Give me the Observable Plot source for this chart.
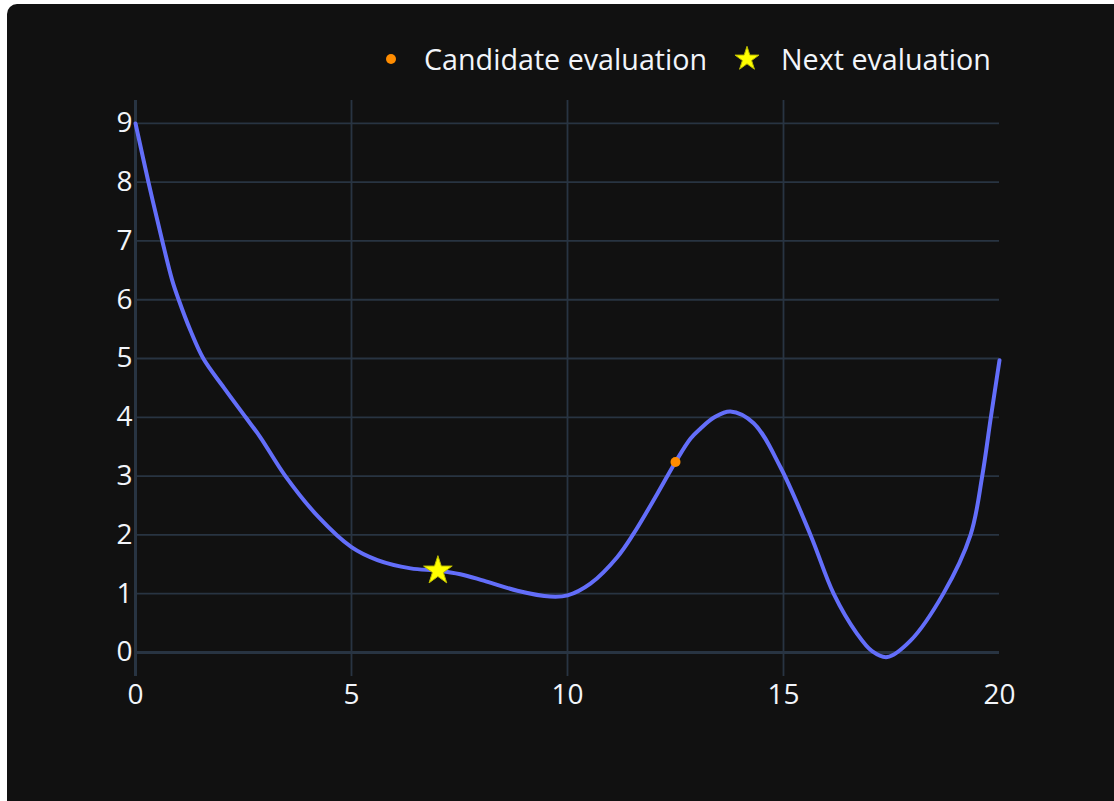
<!DOCTYPE html>
<html>
<head>
<meta charset="utf-8">
<script src="https://cdn.jsdelivr.net/npm/d3@7"></script>
<script src="https://cdn.jsdelivr.net/npm/@observablehq/plot@0.6"></script>
<style>
  html, body { margin: 0; padding: 0; background: #ffffff; }
  #frame { position: absolute; left: 7px; top: 4px; width: 1107px; height: 797px; background: #111111; border-radius: 10px 0 0 0; overflow: hidden; }
  #chart { position: absolute; left: 0; top: 0; }
  #legend { position: absolute; top: 0; left: 0; width: 1114px; height: 120px; font-family: "Open Sans", sans-serif; font-size: 28.7px; color: #f2f5fa; }
  .item { position: absolute; top: 39px; line-height: 40px; white-space: nowrap; }
</style>
</head>
<body>
<div id="frame"></div>
<div id="chart"></div>
<div id="legend"></div>
<script>
// Surrogate curve
const curveX = [0, 0.3, 0.62, 0.85, 1.0, 1.27, 1.57, 2.04, 2.55, 2.89, 3.47, 4.24, 5.0, 5.6, 6.37, 7.0, 7.52, 8.06, 8.84, 9.6, 10.0, 10.53, 11.15, 11.53, 12.08, 12.5, 12.85, 13.08, 13.4, 13.77, 14.31, 14.93, 15.63, 16.16, 16.7, 17.05, 17.4, 17.94, 18.7, 19.33, 19.6, 19.8, 20];
const curveY = [9.0, 8.0, 7.0, 6.33, 6.0, 5.48, 5.0, 4.51, 4.0, 3.66, 3.0, 2.3, 1.79, 1.57, 1.43, 1.39, 1.33, 1.22, 1.05, 0.95, 0.97, 1.17, 1.62, 2.02, 2.7, 3.24, 3.64, 3.81, 4.0, 4.1, 3.9, 3.15, 1.99, 1.0, 0.32, 0.02, -0.08, 0.2, 1.0, 2.0, 3.0, 4.0, 4.97];

const candidateX = [12.5];
const candidateY = [3.24];
const nextX = [7.0];
const nextY = [1.39];

const xTicks = [0, 5, 10, 15, 20];
const yTicks = [0, 1, 2, 3, 4, 5, 6, 7, 8, 9];
const legendLabels = ["Candidate evaluation", "Next evaluation"];

const curve = curveX.map((x, i) => ({x, y: curveY[i]}));
const cand = candidateX.map((x, i) => ({x, y: candidateY[i]}));
const next = nextX.map((x, i) => ({x, y: nextY[i]}));

const gridColor = "#283442";
const textColor = "#f2f5fa";

const chart = Plot.plot({
  width: 1114,
  height: 801,
  marginLeft: 135,
  marginRight: 115,
  marginTop: 100,
  marginBottom: 125,
  style: { background: "transparent", fontFamily: "'Open Sans', sans-serif", color: textColor },
  x: { domain: [0, 20] },
  y: { domain: [-0.41, 9.39] },
  marks: [
    Plot.gridX([5, 10, 15], { stroke: gridColor, strokeOpacity: 1, strokeWidth: 1.8 }),
    Plot.gridY([1, 2, 3, 4, 5, 6, 7, 8, 9], { stroke: gridColor, strokeOpacity: 1, strokeWidth: 1.8 }),
    Plot.ruleY([0], { stroke: gridColor, strokeWidth: 3 }),
    Plot.ruleX([0], { stroke: gridColor, strokeWidth: 3 }),
    Plot.axisX(xTicks, { tickSize: 0, tickPadding: 8, fontSize: 28, fill: textColor, label: null, tickFormat: d => String(d) }),
    Plot.axisY(yTicks, { tickSize: 0, tickPadding: 3, fontSize: 28, fill: textColor, label: null, tickFormat: d => String(d) }),
    Plot.line(curve, { x: "x", y: "y", stroke: "#636efa", strokeWidth: 4, curve: "catmull-rom" }),
    Plot.dot(cand, { x: "x", y: "y", r: 5, fill: "#ff8c00", stroke: "none" }),
    Plot.dot(next, { x: "x", y: "y", symbol: "star", r: 9, fill: "#ffff00", stroke: "#bbbb00", strokeWidth: 1 })
  ]
});
document.getElementById("chart").appendChild(chart);

// Legend
const legend = d3.select("#legend");
const item1 = legend.append("div").attr("class", "item").style("left", "384px");
item1.append("svg").attr("width", 14).attr("height", 14).style("vertical-align", "middle").style("margin-right", "26px").style("position", "relative").style("top", "-3px")
  .append("circle").attr("cx", 7).attr("cy", 7).attr("r", 5).attr("fill", "#ff8c00");
item1.append("span").text(legendLabels[0]);

const item2 = legend.append("div").attr("class", "item").style("left", "733px");
const s = item2.append("svg").attr("width", 28).attr("height", 28).style("vertical-align", "middle").style("margin-right", "20px").style("position", "relative").style("top", "-3px");
s.append("path").attr("transform", "translate(14,14)").attr("d", d3.symbol(d3.symbolStar, 180)()).attr("fill", "#ffff00").attr("stroke", "#bbbb00").attr("stroke-width", 1);
item2.append("span").text(legendLabels[1]);
</script>
</body>
</html>
